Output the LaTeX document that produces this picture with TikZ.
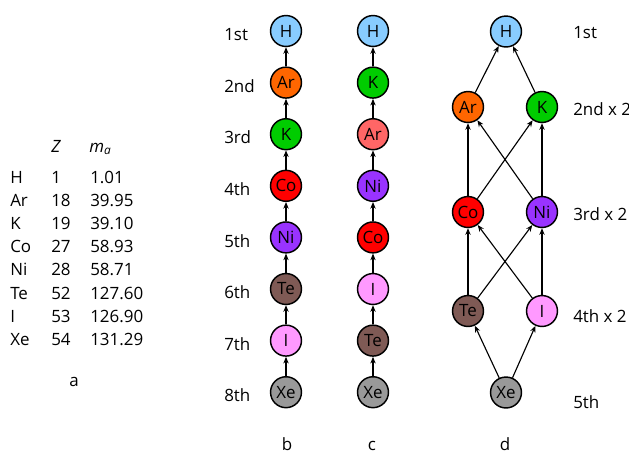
\documentclass[tikz,border=0pt]{standalone}
\usepackage{fontspec}
\setmainfont{Open Sans}
\usetikzlibrary{arrows.meta}

\definecolor{hblue}{HTML}{88CCFF}
\definecolor{arorange}{HTML}{FF6600}
\definecolor{arpink}{HTML}{FF6666}
\definecolor{kgreen}{HTML}{00CC00}
\definecolor{cored}{HTML}{FF0000}
\definecolor{nipurple}{HTML}{9933FF}
\definecolor{tebrown}{HTML}{7F5A55}
\definecolor{ipink}{HTML}{FF99FF}
\definecolor{xegrey}{HTML}{999999}

\tikzset{
  atom/.style={circle,draw,line width=1.1pt,minimum size=23.2pt,inner sep=0pt},
  link/.style={-{Stealth[length=5pt,width=4pt]},line width=0.85pt},
  rank/.style={anchor=base west,inner sep=0pt},
  cell/.style={anchor=base west,inner sep=0pt},
}

\begin{document}
\begin{tikzpicture}[x=0.75pt,y=-0.75pt,font=\fontsize{12.7}{14}\selectfont]
\useasboundingbox (0,0) rectangle (629,454);

% table a
\begin{scope}[shift={(0,0)}]
  \node[cell] (hZ) at (51,152) {\textit{Z}};
  \node[cell] (hM) at (89,152) {\textit{m\textsubscript{a}}};
  \node[cell] (tH) at (10,183.5) {H};   \node[cell] (zH) at (51,183.5) {1};   \node[cell] (mH) at (90,183.5) {1.01};
  \node[cell] (tAr) at (10,206.6) {Ar}; \node[cell] (zAr) at (51,206.6) {18}; \node[cell] (mAr) at (90,206.6) {39.95};
  \node[cell] (tK) at (10,229.7) {K};   \node[cell] (zK) at (51,229.7) {19};  \node[cell] (mK) at (90,229.7) {39.10};
  \node[cell] (tCo) at (10,252.8) {Co}; \node[cell] (zCo) at (51,252.8) {27}; \node[cell] (mCo) at (90,252.8) {58.93};
  \node[cell] (tNi) at (10,275.9) {Ni}; \node[cell] (zNi) at (51,275.9) {28}; \node[cell] (mNi) at (90,275.9) {58.71};
  \node[cell] (tTe) at (10,299) {Te};   \node[cell] (zTe) at (51,299) {52};   \node[cell] (mTe) at (90,299) {127.60};
  \node[cell] (tI) at (10,322.1) {I};   \node[cell] (zI) at (51,322.1) {53};  \node[cell] (mI) at (90,322.1) {126.90};
  \node[cell] (tXe) at (10,345.2) {Xe}; \node[cell] (zXe) at (51,345.2) {54}; \node[cell] (mXe) at (90,345.2) {131.29};
  \node[anchor=base] (la) at (74,386) {a};
\end{scope}

% chain b
\begin{scope}[shift={(286,0)}]
  \node[atom,fill=hblue] (H) at (0,31) {H};
  \node[atom,fill=arorange] (Ar) at (0,82.6) {Ar};
  \node[atom,fill=kgreen] (K) at (0,134.2) {K};
  \node[atom,fill=cored] (Co) at (0,185.8) {Co};
  \node[atom,fill=nipurple] (Ni) at (0,237.4) {Ni};
  \node[atom,fill=tebrown] (Te) at (0,289) {Te};
  \node[atom,fill=ipink] (I) at (0,340.6) {I};
  \node[atom,fill=xegrey] (Xe) at (0,392.2) {Xe};
  \node[anchor=base,inner sep=0pt] (lb) at (1,450) {b};

  \draw[link] (Xe) -- (I);
  \draw[link] (I) -- (Te);
  \draw[link] (Te) -- (Ni);
  \draw[link] (Ni) -- (Co);
  \draw[link] (Co) -- (K);
  \draw[link] (K) -- (Ar);
  \draw[link] (Ar) -- (H);
\end{scope}

% ranks of b
\node[rank] (r1) at (224,40.7) {1st};
\node[rank] (r2) at (224,92.3) {2nd};
\node[rank] (r3) at (224,143.9) {3rd};
\node[rank] (r4) at (224,195.5) {4th};
\node[rank] (r5) at (224,247.1) {5th};
\node[rank] (r6) at (224,298.7) {6th};
\node[rank] (r7) at (224,350.3) {7th};
\node[rank] (r8) at (224,401.9) {8th};

% chain c
\begin{scope}[shift={(373,0)}]
  \node[atom,fill=hblue] (H) at (0,31) {H};
  \node[atom,fill=kgreen] (K) at (0,82.6) {K};
  \node[atom,fill=arpink] (Ar) at (0,134.2) {Ar};
  \node[atom,fill=nipurple] (Ni) at (0,185.8) {Ni};
  \node[atom,fill=cored] (Co) at (0,237.4) {Co};
  \node[atom,fill=ipink] (I) at (0,289) {I};
  \node[atom,fill=tebrown] (Te) at (0,340.6) {Te};
  \node[atom,fill=xegrey] (Xe) at (0,392.2) {Xe};
  \node[anchor=base,inner sep=0pt] (lc) at (-1,450) {c};

  \draw[link] (Xe) -- (Te);
  \draw[link] (Te) -- (I);
  \draw[link] (I) -- (Co);
  \draw[link] (Co) -- (Ni);
  \draw[link] (Ni) -- (Ar);
  \draw[link] (Ar) -- (K);
  \draw[link] (K) -- (H);
\end{scope}

% lattice d
\begin{scope}[shift={(505,0)}]
  \node[atom,fill=hblue] (H) at (1,31.5) {H};
  \node[atom,fill=arorange] (Ar) at (-37,107) {Ar};
  \node[atom,fill=kgreen] (K) at (37,107) {K};
  \node[atom,fill=cored] (Co) at (-37,212) {Co};
  \node[atom,fill=nipurple] (Ni) at (37,212) {Ni};
  \node[atom,fill=tebrown] (Te) at (-37,311) {Te};
  \node[atom,fill=ipink] (I) at (37,311) {I};
  \node[atom,fill=xegrey] (Xe) at (1,392.5) {Xe};
  \node[anchor=base,inner sep=0pt] (ld) at (0,450) {d};

  \draw[link] (Ar) -- (H);
  \draw[link] (K) -- (H);
  \draw[link] (Co) -- (Ar);
  \draw[link] (Co) -- (K);
  \draw[link] (Ni) -- (Ar);
  \draw[link] (Ni) -- (K);
  \draw[link] (Te) -- (Co);
  \draw[link] (Te) -- (Ni);
  \draw[link] (I) -- (Co);
  \draw[link] (I) -- (Ni);
  \draw[link] (Xe) -- (Te);
  \draw[link] (Xe) -- (I);
\end{scope}

% ranks of d
\node[rank] (s1) at (573,38) {1st};
\node[rank] (s2) at (573,115) {2nd x 2};
\node[rank] (s3) at (573,220) {3rd x 2};
\node[rank] (s4) at (573,322) {4th x 2};
\node[rank] (s5) at (573,408) {5th};

\end{tikzpicture}
\end{document}
